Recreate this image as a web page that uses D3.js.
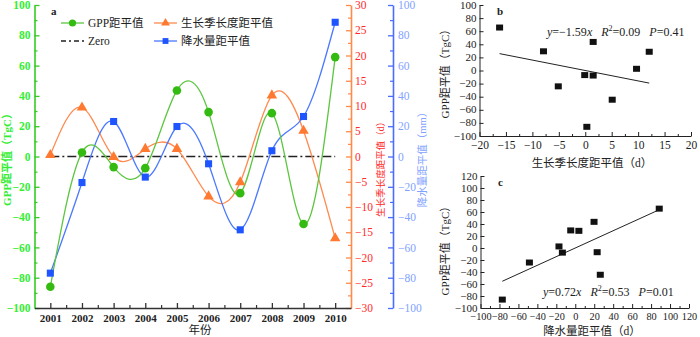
<!DOCTYPE html>
<html><head><meta charset="utf-8">
<script src="https://cdn.jsdelivr.net/npm/d3@7"></script>
<style>
body{margin:0;background:#fff;}
svg{display:block;}
text{font-family:"Liberation Serif","Times New Roman",serif;}
.cjk{font-family:"Liberation Serif","Noto Sans CJK SC",serif;}
</style></head>
<body>
<svg id="c" width="700" height="337"></svg>
<script>
// ---------- data ----------
const years = [2001,2002,2003,2004,2005,2006,2007,2008,2009,2010];
const gpp = [-86, 2.6, -7, -7.7, 43.6, 29.3, -24.2, 28.6, -44.6, 65.6];
const gsl = [0.3, 9.7, -0.1, 1.5, 1.5, -7.9, -5.1, 12.1, 5.1, -16.2];
const precip = [-77, -17.2, 23.1, -13.6, 19.8, -4.8, -48.4, 3.8, 26.4, 88.6];
const gppTicks = [-100,-80,-60,-40,-20,0,20,40,60,80,100];
const gslTicks = [-30,-25,-20,-15,-10,-5,0,5,10,15,20,25,30];
const precipTicks = [-100,-80,-60,-40,-20,0,20,40,60,80,100];
const slopeB = -1.59, slopeC = 0.72;
const legendLabels = ["GPP距平值","生长季长度距平值","Zero","降水量距平值"];

const svg = d3.select("#c");
svg.append("rect").attr("width",700).attr("height",337).attr("fill","#fff");

const cGreen="#33bb11", cGreenLine="#5cc640", cGreenTxt="#33ee33";
const cOrange="#ff7a30", cOrangeLine="#ff8a50", cRed="#ff2a2a";
const cBlue="#1f55ff", cBlueLine="#4a78ff", cBlueTxt="#7fa2ff";

// ---------- panel a ----------
const xA = d3.scaleLinear().domain([2000.5,2010.5]).range([34.5,351]);
const yG = d3.scaleLinear().domain([-100,100]).range([308,5]);
const yO = d3.scaleLinear().domain([-30,30]).range([308,5]);
const yB = d3.scaleLinear().domain([-100,100]).range([308,5]);

function styleAxis(g, col, txtCol, fs){
  g.select(".domain").attr("stroke",col).attr("stroke-width",1.6);
  g.selectAll(".tick line").attr("stroke",col).attr("stroke-width",1.3);
  g.selectAll("text").attr("fill",txtCol).attr("font-size",fs).attr("font-family","Liberation Serif, serif");
}
// left GPP axis
const gL = svg.append("g").attr("transform","translate(34.5,0)")
  .call(d3.axisLeft(yG).tickValues(gppTicks).tickSize(-5).tickPadding(4).tickSizeOuter(0));
styleAxis(gL,"#33cc22",cGreenTxt,11.5);
gL.selectAll("text").attr("font-weight","bold");
svg.append("g").attr("transform","translate(34.5,0)")
  .call(d3.axisLeft(yG).tickValues(d3.range(-90,100,20)).tickSize(-3).tickFormat("").tickSizeOuter(0))
  .call(g=>{g.select(".domain").remove();g.selectAll("line").attr("stroke","#33cc22").attr("stroke-width",1.2);});

// orange axis
const gO = svg.append("g").attr("transform","translate(351,0)")
  .call(d3.axisRight(yO).tickValues(gslTicks).tickSize(-5).tickPadding(4).tickSizeOuter(0));
styleAxis(gO,"#ff8a4a",cRed,11.5);
svg.append("g").attr("transform","translate(351,0)")
  .call(d3.axisRight(yO).tickValues(d3.range(-27.5,30,5)).tickSize(-3).tickFormat("").tickSizeOuter(0))
  .call(g=>{g.select(".domain").remove();g.selectAll("line").attr("stroke","#ff8a4a").attr("stroke-width",1.2);});

// blue axis
const gB = svg.append("g").attr("transform","translate(393,0)")
  .call(d3.axisRight(yB).tickValues(precipTicks).tickSize(-5).tickPadding(5).tickSizeOuter(0));
styleAxis(gB,"#4a6cff",cBlueTxt,11.5);
svg.append("g").attr("transform","translate(393,0)")
  .call(d3.axisRight(yB).tickValues(d3.range(-90,100,20)).tickSize(-3).tickFormat("").tickSizeOuter(0))
  .call(g=>{g.select(".domain").remove();g.selectAll("line").attr("stroke","#4a6cff").attr("stroke-width",1.2);});

// bottom axis
const gX = svg.append("g").attr("transform","translate(0,308)")
  .call(d3.axisBottom(xA).tickValues(years).tickFormat(d3.format("d")).tickSize(-5).tickPadding(6).tickSizeOuter(0));
styleAxis(gX,"#333","#222",11);
gX.selectAll("text").attr("font-weight","bold");
svg.append("g").attr("transform","translate(0,308)")
  .call(d3.axisBottom(xA).tickValues(d3.range(2001.5,2010,1)).tickSize(-3).tickFormat("").tickSizeOuter(0))
  .call(g=>{g.select(".domain").remove();g.selectAll("line").attr("stroke","#333").attr("stroke-width",1.2);});

// axis titles
svg.append("text").attr("class","cjk").attr("transform","translate(11,157) rotate(-90)")
  .attr("text-anchor","middle").attr("fill",cGreenTxt).attr("font-size",11).attr("font-weight","bold").text("GPP距平值（TgC）");
svg.append("text").attr("class","cjk").attr("transform","translate(384,167) rotate(-90)")
  .attr("text-anchor","middle").attr("fill",cRed).attr("font-size",9.5).text("生长季长度距平值（d）");
svg.append("text").attr("class","cjk").attr("transform","translate(426,157) rotate(-90)")
  .attr("text-anchor","middle").attr("fill",cBlueTxt).attr("font-size",10.5).text("降水量距平值（mm）");
svg.append("text").attr("class","cjk").attr("x",200).attr("y",334).attr("text-anchor","middle")
  .attr("fill","#222").attr("font-size",11.5).text("年份");

// zero line
svg.append("line").attr("x1",xA(2001)).attr("x2",xA(2010)).attr("y1",yG(0)).attr("y2",yG(0))
  .attr("stroke","#222").attr("stroke-width",1.6).attr("stroke-dasharray","9,3,2,3");

// curves
const line = (ys)=>d3.line().x((d,i)=>xA(years[i])).y(d=>ys(d)).curve(d3.curveNatural);
svg.append("path").attr("d",line(yO)(gsl)).attr("fill","none").attr("stroke",cOrangeLine).attr("stroke-width",1.3);
svg.append("path").attr("d",line(yB)(precip)).attr("fill","none").attr("stroke",cBlueLine).attr("stroke-width",1.3);
svg.append("path").attr("d",line(yG)(gpp)).attr("fill","none").attr("stroke",cGreenLine).attr("stroke-width",1.3);

const tri = d3.symbol().type(d3.symbolTriangle).size(48);
const sq = d3.symbol().type(d3.symbolSquare).size(50);
svg.append("g").selectAll("path").data(gsl).join("path")
  .attr("transform",(d,i)=>`translate(${xA(years[i])},${yO(d)})`).attr("d",tri()).attr("fill",cOrange);
svg.append("g").selectAll("path").data(precip).join("path")
  .attr("transform",(d,i)=>`translate(${xA(years[i])},${yB(d)})`).attr("d",sq()).attr("fill",cBlue);
svg.append("g").selectAll("circle").data(gpp).join("circle")
  .attr("cx",(d,i)=>xA(years[i])).attr("cy",d=>yG(d)).attr("r",4.3).attr("fill",cGreen);

// legend
svg.append("text").attr("x",51).attr("y",15).attr("font-size",11).attr("font-weight","bold").attr("fill","#222").text("a");
const leg = [
  {x:61,y:23,col:cGreenLine,mk:"c",fill:cGreen,t:legendLabels[0]},
  {x:154,y:23,col:cOrangeLine,mk:"t",fill:cOrange,t:legendLabels[1]},
  {x:61,y:41,col:"#222",mk:"z",fill:null,t:legendLabels[2]},
  {x:154,y:41,col:cBlueLine,mk:"s",fill:cBlue,t:legendLabels[3]}
];
leg.forEach(l=>{
  const ln = svg.append("line").attr("x1",l.x).attr("x2",l.x+23).attr("y1",l.y).attr("y2",l.y)
    .attr("stroke",l.col).attr("stroke-width",l.mk==="z"?1.6:1.3);
  if(l.mk==="z") ln.attr("stroke-dasharray","5,3,2,3");
  if(l.mk==="c") svg.append("circle").attr("cx",l.x+11.5).attr("cy",l.y).attr("r",3.6).attr("fill",l.fill);
  if(l.mk==="t") svg.append("path").attr("transform",`translate(${l.x+11.5},${l.y})`).attr("d",d3.symbol().type(d3.symbolTriangle).size(34)()).attr("fill",l.fill);
  if(l.mk==="s") svg.append("path").attr("transform",`translate(${l.x+11.5},${l.y})`).attr("d",d3.symbol().type(d3.symbolSquare).size(34)()).attr("fill",l.fill);
  svg.append("text").attr("class","cjk").attr("x",l.x+27).attr("y",l.y+4).attr("font-size",11.5).attr("fill","#222").text(l.t);
});

// ---------- scatter panels ----------
function scatter(opt){
  const x = d3.scaleLinear().domain(opt.xd).range(opt.xr);
  const y = d3.scaleLinear().domain(opt.yd).range(opt.yr);
  const gx = svg.append("g").attr("transform",`translate(0,${opt.yr[0]})`)
    .call(d3.axisBottom(x).tickValues(opt.xt).tickSize(-4).tickPadding(5).tickSizeOuter(0));
  styleAxis(gx,"#222","#222",opt.xfs);
  gx.select(".domain").attr("stroke-width",1);
  gx.selectAll(".tick line").attr("stroke-width",1);
  svg.append("g").attr("transform",`translate(0,${opt.yr[0]})`)
    .call(d3.axisBottom(x).tickValues(opt.xm).tickSize(-2).tickFormat("").tickSizeOuter(0))
    .call(g=>{g.select(".domain").remove();g.selectAll("line").attr("stroke","#222");});
  const gy = svg.append("g").attr("transform",`translate(${opt.xr[0]},0)`)
    .call(d3.axisLeft(y).tickValues(opt.yt).tickSize(-4).tickPadding(3).tickSizeOuter(0));
  styleAxis(gy,"#222","#222",11);
  gy.select(".domain").attr("stroke-width",1);
  gy.selectAll(".tick line").attr("stroke-width",1);
  gy.selectAll(".tick text").attr("dy","0.28em");
  const ext = d3.extent(opt.xs);
  svg.append("line").attr("x1",x(ext[0])).attr("x2",x(ext[1]))
    .attr("y1",y(opt.slope*ext[0])).attr("y2",y(opt.slope*ext[1])).attr("stroke","#222").attr("stroke-width",1);
  svg.append("g").selectAll("rect").data(opt.ys).join("rect")
    .attr("x",(d,i)=>x(opt.xs[i])-3.5).attr("y",d=>y(d)-3).attr("width",7).attr("height",6).attr("fill","#111");
  svg.append("text").attr("x",opt.lab[0]).attr("y",opt.lab[1]).attr("font-size",11).attr("font-weight","bold").attr("fill","#222").text(opt.label);
  svg.append("text").attr("class","cjk").attr("transform",`translate(${opt.yTitle[0]},${opt.yTitle[1]}) rotate(-90)`)
    .attr("text-anchor","middle").attr("font-size",11).attr("fill","#222").text("GPP距平值（TgC）");
  svg.append("text").attr("class","cjk").attr("x",opt.xTitle[0]).attr("y",opt.xTitle[1])
    .attr("text-anchor","middle").attr("font-size",11.5).attr("fill","#222").text(opt.xTitleText);
  const eq = svg.append("text").attr("x",opt.eq[0]).attr("y",opt.eq[1]).attr("font-size",12).attr("fill","#222");
  eq.append("tspan").attr("font-style","italic").text("y");
  eq.append("tspan").text("="+opt.eqText[0]);
  eq.append("tspan").attr("font-style","italic").text("x");
  eq.append("tspan").attr("font-style","italic").attr("dx",9).text("R");
  eq.append("tspan").attr("font-size",8).attr("dy",-5).text("2");
  eq.append("tspan").attr("dy",5).text("="+opt.eqText[1]);
  eq.append("tspan").attr("font-style","italic").attr("dx",9).text("P");
  eq.append("tspan").text("="+opt.eqText[2]);
}

scatter({xd:[-20,20],xr:[479.5,691],yd:[-100,100],yr:[136,5],
  xt:[-20,-15,-10,-5,0,5,10,15,20], xm:d3.range(-17.5,20,5), xfs:11.5,
  yt:[-100,-80,-60,-40,-20,0,20,40,60,80,100],
  xs:gsl, ys:gpp, slope:slopeB, label:"b", lab:[497,15],
  yTitle:[449,71], xTitle:[592,167], xTitleText:"生长季长度距平值（d）",
  eq:[547,36], eqText:["−1.59","0.09","0.41"]});

scatter({xd:[-100,120],xr:[480.5,689],yd:[-100,120],yr:[308,176],
  xt:[-100,-80,-60,-40,-20,0,20,40,60,80,100,120], xm:d3.range(-90,120,20), xfs:10.3,
  yt:[-100,-80,-60,-40,-20,0,20,40,60,80,100,120],
  xs:precip, ys:gpp, slope:slopeC, label:"c", lab:[498,186],
  yTitle:[449,248], xTitle:[592,335], xTitleText:"降水量距平值（d）",
  eq:[543,296], eqText:["0.72","0.53","0.01"]});
</script>
</body></html>
